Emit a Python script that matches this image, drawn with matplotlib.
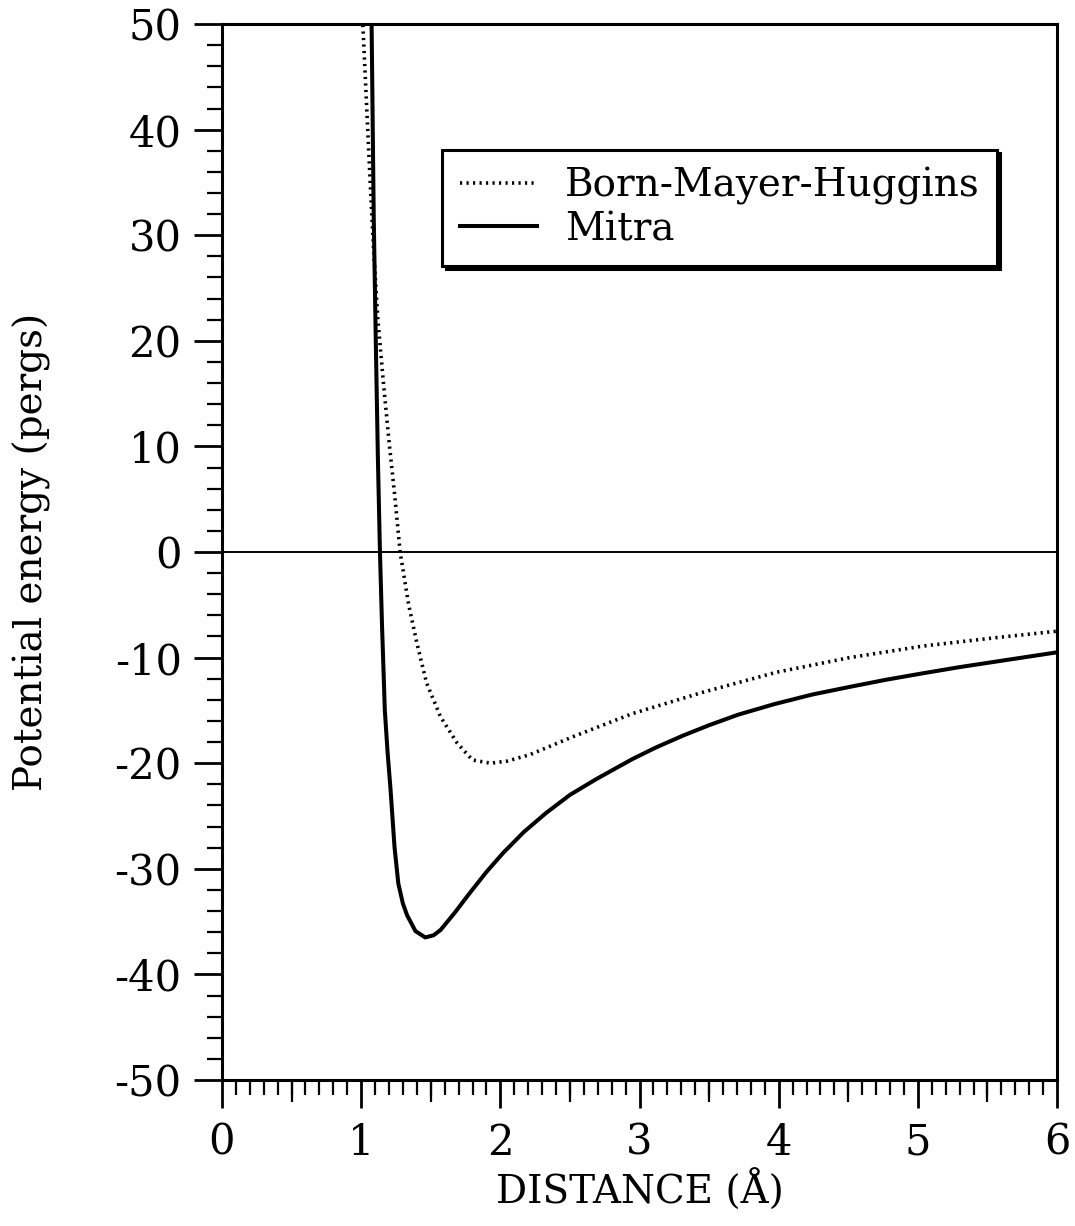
import matplotlib
matplotlib.use("Agg")
import matplotlib.pyplot as plt
import numpy as np

plt.rcParams['font.family'] = ['DejaVu Serif']
plt.rcParams['axes.unicode_minus'] = False

# Born-Mayer-Huggins potential (dotted)
bmh_x = [1.00, 1.012, 1.04, 1.065, 1.09, 1.12, 1.16, 1.20, 1.24, 1.28, 1.34, 1.40,
         1.47, 1.57, 1.69, 1.80, 1.93, 2.05, 2.21, 2.52, 2.95, 3.45, 3.98, 4.51,
         5.04, 5.57, 6.00]
bmh_y = [55.0, 50.0, 42.0, 35.0, 28.5, 22.0, 16.0, 10.5, 5.5, 0.0, -4.9, -8.6,
         -12.4, -15.6, -18.1, -19.7, -20.0, -19.8, -19.2, -17.5, -15.3, -13.3, -11.4, -10.0,
         -8.9, -8.1, -7.5]

# Mitra potential (solid)
mitra_x = [1.07, 1.075, 1.09, 1.105, 1.12, 1.135, 1.15, 1.17, 1.19, 1.21, 1.24, 1.267,
           1.30, 1.33, 1.39, 1.46, 1.52, 1.57, 1.67, 1.78, 1.90, 2.02, 2.17, 2.33,
           2.50, 2.69, 2.95, 3.12, 3.31, 3.50, 3.71, 3.97, 4.24, 4.50, 4.77, 5.03,
           5.30, 5.65, 6.00]
mitra_y = [55.0, 50.0, 32.0, 20.0, 9.0, 0.0, -7.0, -15.0, -19.0, -22.3, -28.0, -31.4,
           -33.3, -34.4, -35.9, -36.5, -36.3, -35.8, -34.2, -32.3, -30.3, -28.5, -26.5, -24.7,
           -23.0, -21.5, -19.6, -18.5, -17.4, -16.4, -15.4, -14.4, -13.5, -12.8, -12.1, -11.5,
           -10.9, -10.2, -9.5]

x_major = [0, 1, 2, 3, 4, 5, 6]
y_major = [50, 40, 30, 20, 10, 0, -10, -20, -30, -40, -50]

fig = plt.figure(figsize=(10.75, 12.26), dpi=100)
ax = fig.add_axes([0.2065, 0.1191, 0.7768, 0.8613])

ax.axhline(0, color='black', lw=1.4, zorder=1)
ax.plot(bmh_x, bmh_y, color='black', lw=2.6, linestyle=(0, (0.6, 1.2)),
        label='Born-Mayer-Huggins')
ax.plot(mitra_x, mitra_y, color='black', lw=2.9, label='Mitra')

ax.set_xlim(0, 6)
ax.set_ylim(-50, 50)

ax.set_xticks(x_major)
ax.set_xticklabels([str(v) for v in x_major])
ax.set_xticks(np.arange(0, 6.01, 0.1), minor=True)
ax.set_yticks(y_major)
ax.set_yticklabels([str(v) for v in y_major])
ax.set_yticks(np.arange(-50, 51, 2), minor=True)

ax.tick_params(axis='both', which='major', direction='out', length=20, width=2,
               labelsize=30, pad=9)
ax.tick_params(axis='both', which='minor', direction='out', length=10.5, width=1.6)
ax.tick_params(axis='x', which='major', pad=10)

# medium ticks at the half units
sec = ax.secondary_xaxis('bottom')
sec.set_xticks(np.arange(0.5, 6, 1.0))
sec.set_xticklabels([])
sec.tick_params(direction='out', length=16, width=1.6)
sec.spines['bottom'].set_visible(False)

for sp in ax.spines.values():
    sp.set_linewidth(2.2)

ax.set_xlabel('DISTANCE (Å)', fontsize=28)
ax.xaxis.set_label_coords(0.5, -0.085)
ax.set_ylabel('Potential energy (pergs)', fontsize=28)
ax.yaxis.set_label_coords(-0.205, 0.5)

leg = ax.legend(loc='upper right', bbox_to_anchor=(0.928, 0.881), fontsize=28,
                frameon=True, fancybox=False, handlelength=2.0, handletextpad=0.7,
                borderpad=0.45, labelspacing=0.15, borderaxespad=0,
                shadow={'ox': 2.5, 'oy': -2.5, 'color': 'black', 'alpha': 1})
leg.get_frame().set_edgecolor('black')
leg.get_frame().set_linewidth(2.2)
leg.get_frame().set_alpha(1)

fig.savefig('out.png', dpi=100)
